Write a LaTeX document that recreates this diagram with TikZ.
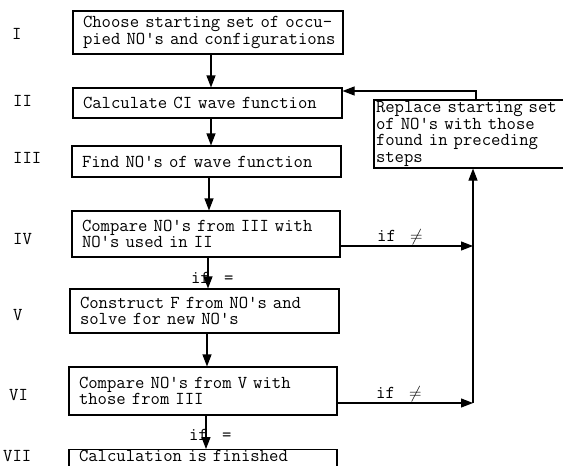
\documentclass[tikz,border=0pt]{standalone}
\usepackage{fontspec}
\usetikzlibrary{arrows.meta}
\begin{document}
\begin{tikzpicture}[x=1pt,y=-1pt,
  font=\ttfamily\fontsize{18.2}{16.5}\selectfont,
  stepbox/.style={draw,line width=1.1pt,rectangle,inner xsep=10pt,inner ysep=0pt,align=left},
  lbl/.style={inner sep=0pt},
  arr/.style={line width=1.1pt,-{Triangle[length=12pt,width=9pt]}},
  ln/.style={line width=1.1pt}]
\useasboundingbox (0,0) rectangle (563,466);
\clip (0,0) rectangle (563,466);
% boxes
\node[stepbox,minimum width=270pt,minimum height=43pt,text width=250pt] (I) at (208,32.5)
  {\mbox{Choose starting set of occu-}\\\mbox{pied NO's and configurations}};
\node[stepbox,minimum width=269pt,minimum height=30pt,text width=249pt] (II) at (207.5,103)
  {Calculate CI wave function};
\node[stepbox,minimum width=269pt,minimum height=31pt,text width=249pt] (III) at (206.5,161.5)
  {Find NO's of wave function};
\node[stepbox,minimum width=268pt,minimum height=46pt,text width=248pt] (IV) at (206,234)
  {Compare NO's from III with\\NO's used in II};
\node[stepbox,minimum width=269pt,minimum height=44pt,text width=249pt] (V) at (204.5,311)
  {Construct F from NO's and\\solve for new NO's};
\node[stepbox,minimum width=268pt,minimum height=48pt,text width=248pt] (VI) at (203,391)
  {Compare NO's from V with\\those from III};
\node[stepbox,anchor=north,inner ysep=0.5pt,minimum width=268pt,text width=248pt,text depth=22pt] (VII) at (203,449)
  {Calculation is finished};
\node[stepbox,inner xsep=2pt,minimum width=200pt,minimum height=68pt,text width=196pt] (R) at (474,134)
  {Replace starting set\\of NO's with those\\found in preceding\\steps};
% labels
\node[lbl,anchor=west] (lI) at (12,34) {I};
\node[lbl,anchor=west] (lII) at (13,101) {II};
\node[lbl,anchor=west] (lIII) at (13,158) {III};
\node[lbl,anchor=west] (lIV) at (13,239) {IV};
\node[lbl,anchor=west] (lV) at (13,315) {V};
\node[lbl,anchor=west] (lVI) at (9,395) {VI};
\node[lbl,anchor=west] (lVII) at (3,456) {VII};
% helper coordinates
\coordinate (c1) at (211,0);
\coordinate (c2) at (211,0);
\coordinate (c3) at (209,0);
\coordinate (c4) at (208,0);
\coordinate (c5) at (207,0);
\coordinate (c6) at (206,0);
\coordinate (fb) at (476,91);
\coordinate (vx) at (473,0);
\coordinate (a4) at (0,246);
\coordinate (a6) at (0,403);
% main flow
\draw[arr] (I.south -| c1) -- (II.north -| c1);
\draw[arr] (II.south -| c2) -- (III.north -| c2);
\draw[arr] (III.south -| c3) -- (IV.north -| c3);
\draw[arr] (IV.south -| c4) -- (V.north -| c4);
\draw[arr] (V.south -| c5) -- (VI.north -| c5);
\draw[arr] (VI.south -| c6) -- (VII.north -| c6);
% feedback
\draw[arr] (R.north -| fb) -- (fb) -- (II.east |- fb);
\draw[arr] (IV.east |- a4) -- (vx |- a4);
\draw[arr] (VI.east |- a6) -- (vx |- a6);
\draw[arr] (vx |- a6) -- (R.south -| vx);
% condition labels
\node[lbl,anchor=base east] (if4) at (210,283) {if};
\node[lbl,anchor=base west] (eq4) at (224,283) {=};
\node[lbl,anchor=base east] (if6) at (208,440) {if};
\node[lbl,anchor=base west] (eq6) at (222,440) {=};
\node[lbl,anchor=base west] (ne4a) at (377,241) {if};
\node[lbl,anchor=base west] (ne4b) at (410,241) {$\neq$};
\node[lbl,anchor=base west] (ne6a) at (376,398) {if};
\node[lbl,anchor=base west] (ne6b) at (409,398) {$\neq$};
\end{tikzpicture}
\end{document}
